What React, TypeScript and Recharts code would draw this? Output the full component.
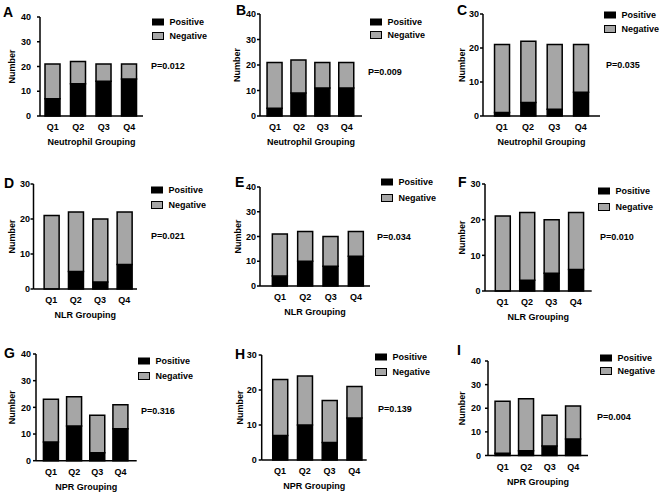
import { BarChart, Bar, XAxis, YAxis } from "recharts";

const quartiles = ["Q1", "Q2", "Q3", "Q4"];

// counts (positive at the bottom, negative stacked on top)
const positiveA = [7, 13, 14, 15];
const negativeA = [14, 9, 7, 6];
const positiveB = [3, 9, 11, 11];
const negativeB = [18, 13, 10, 10];
const positiveC = [1, 4, 2, 7];
const negativeC = [20, 18, 19, 14];
const positiveD = [0, 5, 2, 7];
const negativeD = [21, 17, 18, 15];
const positiveE = [4, 10, 8, 12];
const negativeE = [17, 12, 12, 10];
const positiveF = [0, 3, 5, 6];
const negativeF = [21, 19, 15, 16];
const positiveG = [7, 13, 3, 12];
const negativeG = [16, 11, 14, 9];
const positiveH = [7, 10, 5, 12];
const negativeH = [16, 14, 12, 9];
const positiveI = [1, 2, 4, 7];
const negativeI = [22, 22, 13, 14];

const positives = [positiveA, positiveB, positiveC, positiveD, positiveE, positiveF, positiveG, positiveH, positiveI];
const negatives = [negativeA, negativeB, negativeC, negativeD, negativeE, negativeF, negativeG, negativeH, negativeI];

const panelLetters = ["A", "B", "C", "D", "E", "F", "G", "H", "I"];
const pValues = ["P=0.012", "P=0.009", "P=0.035", "P=0.021", "P=0.034", "P=0.010", "P=0.316", "P=0.139", "P=0.004"];
const groupings = [
  "Neutrophil Grouping", "Neutrophil Grouping", "Neutrophil Grouping",
  "NLR Grouping", "NLR Grouping", "NLR Grouping",
  "NPR Grouping", "NPR Grouping", "NPR Grouping",
];
const yMaxes = [40, 40, 30, 30, 40, 30, 40, 30, 40];
const ticks40 = [0, 10, 20, 30, 40];
const ticks30 = [0, 10, 20, 30];

const FONT = '"Liberation Sans", Arial, sans-serif';
const GREY = "#a6a6a6";
const W = 661;
const H = 494;

// page positions of each panel: axes, first/last bar centres, labels
// tg = gap between y axis and its tick labels
const layout = [
  { x0: 40, x1: 143, c1: 52.2, c4: 129.2, top: 17, bottom: 116, gap: 28, tg: 9, letter: [3, 16.7], legend: [152, 22, 36], p: [151, 66] },
  { x0: 260, x1: 362, c1: 275, c4: 346.7, top: 14, bottom: 116, gap: 23, tg: 4, letter: [236, 15], legend: [370, 22, 35], p: [368, 72] },
  { x0: 483, x1: 600, c1: 501.7, c4: 580.7, top: 14, bottom: 116, gap: 21, tg: 4, letter: [457, 15], legend: [604, 15, 29], p: [606, 65] },
  { x0: 33.5, x1: 137, c1: 51.3, c4: 124.3, top: 184, bottom: 289, gap: 22, tg: 3.5, letter: [4, 187.7], legend: [151, 190, 205], p: [151, 236] },
  { x0: 260, x1: 370, c1: 280, c4: 356, top: 187, bottom: 286, gap: 22, tg: 4, letter: [235, 186.7], legend: [381, 182, 198], p: [377, 237] },
  { x0: 485, x1: 591.7, c1: 502.5, c4: 575.8, top: 184, bottom: 291, gap: 23, tg: 4.5, letter: [458, 187], legend: [598, 191, 207], p: [600, 237] },
  { x0: 36, x1: 136.7, c1: 51, c4: 120.5, top: 354, bottom: 460.7, gap: 24, tg: 5, letter: [4, 358], legend: [138, 361, 376], p: [141, 411] },
  { x0: 261.7, x1: 366.7, c1: 280.3, c4: 355.7, top: 355, bottom: 460, gap: 22, tg: 5, letter: [235, 359], legend: [375, 357, 372], p: [378, 409] },
  { x0: 488, x1: 588, c1: 502.8, c4: 573.3, top: 361, bottom: 455.5, gap: 26, tg: 7, letter: [457, 355], legend: [600, 358, 371], p: [597, 417] },
];

const tickStyle = { fill: "#000", fontSize: 9, fontWeight: 700, fontFamily: FONT };
const axisStroke = { stroke: "#000", strokeWidth: 1.5 };

function Panel({ i }: { i: number }) {
  const L = layout[i];
  const band = (L.c4 - L.c1) / 3;
  const padL = Math.max(0, L.c1 - L.x0 - band / 2);
  const padR = Math.max(0, L.x1 - L.c4 - band / 2);
  const data = quartiles.map((q, k) => ({ q, positive: positives[i][k], negative: negatives[i][k] }));
  const yMax = yMaxes[i];
  return (
    <div style={{ position: "absolute", left: 0, top: 0 }}>
      <BarChart
        width={W}
        height={H}
        data={data}
        margin={{ top: L.top, left: L.x0 - 30, right: W - L.x1, bottom: H - L.bottom - 30 }}
      >
        <XAxis
          dataKey="q"
          height={30}
          padding={{ left: padL, right: padR }}
          axisLine={axisStroke}
          tickLine={false}
          tickSize={4}
          tickMargin={4}
          tick={tickStyle}
        />
        <YAxis
          width={30}
          domain={[0, yMax]}
          ticks={yMax === 40 ? ticks40 : ticks30}
          interval={0}
          axisLine={axisStroke}
          tickLine={axisStroke}
          tickSize={3}
          tickMargin={Math.max(0.5, L.tg - 3)}
          tick={tickStyle}
        />
        <Bar dataKey="positive" stackId="s" fill="#000" stroke="#000" strokeWidth={1.5} barSize={15} isAnimationActive={false} />
        <Bar dataKey="negative" stackId="s" fill={GREY} stroke="#000" strokeWidth={1.5} barSize={15} isAnimationActive={false} />
      </BarChart>
    </div>
  );
}

function Labels() {
  const t = { fontFamily: FONT, fontWeight: 700, fill: "#000" };
  return (
    <svg width={W} height={H} style={{ position: "absolute", left: 0, top: 0 }}>
      {layout.map((L, i) => {
        const midY = (L.top + L.bottom) / 2;
        const [lx, ly1, ly2] = L.legend;
        return (
          <g key={i}>
            <text x={L.letter[0]} y={L.letter[1]} fontSize={14} {...t}>{panelLetters[i]}</text>
            <text
              x={L.x0 - L.gap}
              y={midY}
              fontSize={9}
              textAnchor="middle"
              dominantBaseline="central"
              transform={`rotate(-90 ${L.x0 - L.gap} ${midY})`}
              {...t}
            >
              Number
            </text>
            <text x={(L.x0 + L.x1) / 2} y={L.bottom + 26} fontSize={9} textAnchor="middle" dominantBaseline="central" {...t}>
              {groupings[i]}
            </text>
            <rect x={lx} y={ly1 - 3.5} width={12} height={7} fill="#000" />
            <rect x={lx + 0.5} y={ly2 - 3.5} width={11} height={7} fill={GREY} stroke="#000" strokeWidth={1} />
            <text x={lx + 17.5} y={ly1} fontSize={9} dominantBaseline="central" {...t}>Positive</text>
            <text x={lx + 17.5} y={ly2} fontSize={9} dominantBaseline="central" {...t}>Negative</text>
            <text x={L.p[0]} y={L.p[1]} fontSize={9} dominantBaseline="central" {...t}>{pValues[i]}</text>
          </g>
        );
      })}
    </svg>
  );
}

export default function App() {
  return (
    <div style={{ position: "absolute", left: 0, top: 0, width: W, height: H, background: "#fff" }}>
      {layout.map((_, i) => (
        <Panel key={i} i={i} />
      ))}
      <Labels />
    </div>
  );
}
